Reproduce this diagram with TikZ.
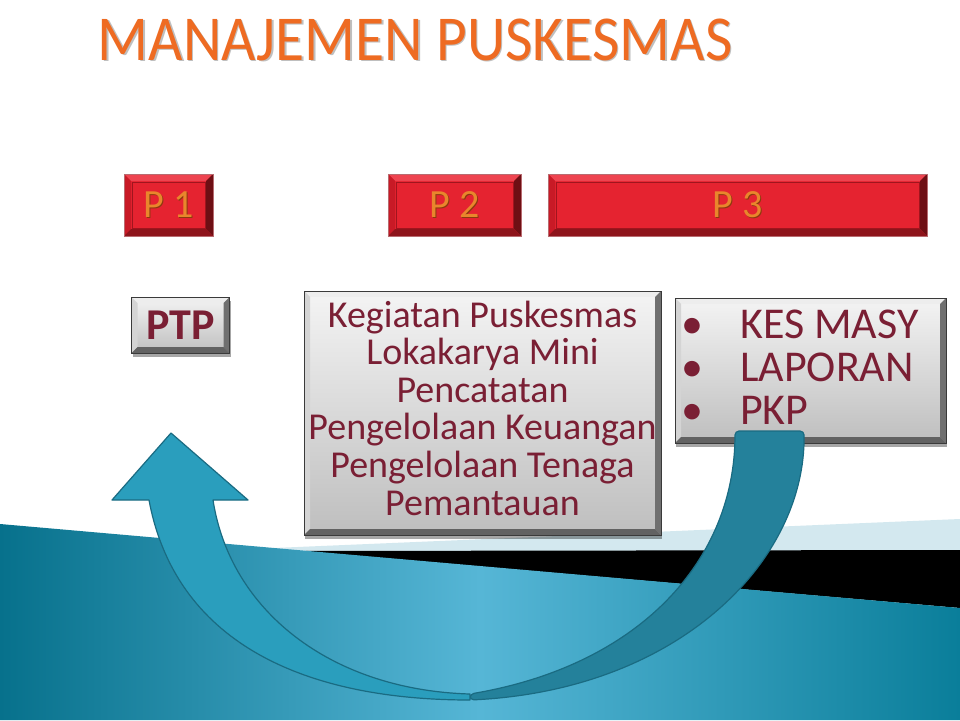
\documentclass[tikz,border=0pt]{standalone}
\usepackage{fontspec}
\usepackage{graphicx}
\setmainfont{Carlito}
\usetikzlibrary{shadows,calc}
\definecolor{titleor}{HTML}{EE6B22}
\definecolor{pred}{HTML}{E52330}
\definecolor{ptop}{HTML}{EE4450}
\definecolor{pleft}{HTML}{C81A26}
\definecolor{pright}{HTML}{6E0F14}
\definecolor{pbottom}{HTML}{8E141B}
\definecolor{pborder}{HTML}{B86B70}
\definecolor{porange}{HTML}{E9862C}
\definecolor{pshadow}{HTML}{8C3A0E}
\definecolor{gtopface}{HTML}{F4F4F4}
\definecolor{gbotface}{HTML}{BEBEBE}
\definecolor{gtop}{HTML}{EDEDED}
\definecolor{gleft}{HTML}{D4D4D4}
\definecolor{gright}{HTML}{707070}
\definecolor{gbottom}{HTML}{626262}
\definecolor{gborder}{HTML}{3A3A3A}
\definecolor{textred}{HTML}{7A1F34}
\definecolor{tealA}{HTML}{07718C}
\definecolor{tealB}{HTML}{56B6D6}
\definecolor{tealC}{HTML}{0A7E9A}
\definecolor{arrL}{HTML}{2A9EBD}
\definecolor{arrR}{HTML}{24819B}
\definecolor{arrLine}{HTML}{1A6B82}
\definecolor{strip}{HTML}{D3E8EF}
\newcommand\shadowtext[4]{\makebox[0pt][l]{\hspace{#4}\raisebox{-#4}{\textcolor{#2}{#1}}}\textcolor{#3}{#1}}
\newcommand\bevelize[6]{%
 \fill[#3] (#1.north west) -- (#1.north east) -- ([shift={(-#2,-#2)}]#1.north east) -- ([shift={(#2,-#2)}]#1.north west) -- cycle;
 \fill[#4] (#1.north west) -- ([shift={(#2,-#2)}]#1.north west) -- ([shift={(#2,#2)}]#1.south west) -- (#1.south west) -- cycle;
 \fill[#5] (#1.north east) -- (#1.south east) -- ([shift={(-#2,#2)}]#1.south east) -- ([shift={(-#2,-#2)}]#1.north east) -- cycle;
 \fill[#6] (#1.south west) -- (#1.south east) -- ([shift={(-#2,#2)}]#1.south east) -- ([shift={(#2,#2)}]#1.south west) -- cycle;
}
\begin{document}
\begin{tikzpicture}[x=1pt,y=-1pt,
  pbox/.style={fill=pred, inner sep=0pt, outer sep=0pt, minimum height=62pt,
    font=\fontsize{40}{40}\selectfont},
  gbox/.style={top color=gtopface, bottom color=gbotface, inner sep=0pt, outer sep=0pt,
    drop shadow={shadow xshift=1pt, shadow yshift=-4pt, opacity=0.35, fill=black},
    text=textred},
  rline/.style={anchor=base west, inner sep=0pt, text=textred, font=\fontsize{44}{44}\selectfont},
  bull/.style={anchor=base, inner sep=0pt, text=textred, font=\fontsize{44}{44}\selectfont},
  arrowpart/.style={draw=arrLine, line width=1.2pt, line join=round}
]
\useasboundingbox (0,0) rectangle (960,720);
\fill[white] (0,0) rectangle (960,720);
% background
\fill[strip] (250,549) -- (960,519) -- (960,551) -- (300,551) -- cycle;
\fill[black] (300,551) -- (960,550) -- (960,608) -- cycle;
\shade[left color=tealA, right color=tealC, middle color=tealB] (0,524) -- (960,608) -- (960,720) -- (0,720) -- cycle;
% title
\node[anchor=base, inner sep=0pt] (title) at (415,60)
  {\scalebox{0.93}[1]{\fontsize{64}{64}\selectfont\shadowtext{MANAJEMEN PUSKESMAS}{black!25}{titleor}{1.5pt}}};
% P boxes
\node[pbox, minimum width=89pt] (p1) at (168.5,205) {\shadowtext{P 1}{pshadow}{porange}{1pt}};
\node[pbox, minimum width=133pt] (p2) at (454.5,205) {\shadowtext{P 2}{pshadow}{porange}{1pt}};
\node[pbox, minimum width=379pt] (p3) at (737.5,205) {\shadowtext{P 3}{pshadow}{porange}{1pt}};
\foreach \n in {p1,p2,p3}{
  \bevelize{\n}{7pt}{ptop}{pleft}{pright}{pbottom}
  \draw[pleft!80!black, line width=0.5pt] ([shift={(8pt,-8pt)}]\n.north west) rectangle ([shift={(-8pt,8pt)}]\n.south east);
  \draw[pborder, line width=0.8pt] (\n.north west) rectangle (\n.south east);
}
% grey boxes
\node[gbox, minimum width=98pt, minimum height=56pt, font=\fontsize{44}{44}\selectfont\bfseries] (ptp) at (180.5,325) {PTP};
\node[gbox, minimum width=357pt, minimum height=244pt] (mid) at (482.5,413) {};
\node[gbox, minimum width=271pt, minimum height=145pt] (rb) at (810.5,370.5) {};
\foreach \n in {ptp,mid,rb}{
  \bevelize{\n}{6pt}{gtop}{gleft}{gright}{gbottom}
  \draw[gborder, line width=1pt] (\n.north west) rectangle (\n.south east);
}
\node[align=center, inner sep=0pt, text=textred, font=\fontsize{38}{37.6}\selectfont] (midtext) at (482.5,408)
  {Kegiatan Puskesmas\\Lokakarya Mini\\Pencatatan\\Pengelolaan Keuangan\\Pengelolaan Tenaga\\Pemantauan};
\node[bull] (b1) at (692,338) {\textbullet};
\node[rline] (t1) at (740,338) {KES MASY};
\node[bull] (b2) at (692,381) {\textbullet};
\node[rline] (t2) at (740,381) {LAPORAN};
\node[bull] (b3) at (692,424) {\textbullet};
\node[rline] (t3) at (740,424) {PKP};
% curved arrow
\coordinate (rtopL) at (735,431);
\coordinate (rtopR) at (804,431);
\fill[arrR, arrowpart, rounded corners=4pt] (rtopL) .. controls (735,560) and (640,665) .. (470,694)
   -- (470,700) .. controls (680,690) and (806,560) .. (rtopR) -- cycle;
\coordinate (tip) at (171,433);
\fill[arrL, arrowpart] (tip) -- (248,500) -- (213,500) .. controls (230,610) and (330,690) .. (470,694)
   -- (470,700) .. controls (300,700) and (175,640) .. (149,500) -- (112,500) -- cycle;
\end{tikzpicture}
\end{document}
